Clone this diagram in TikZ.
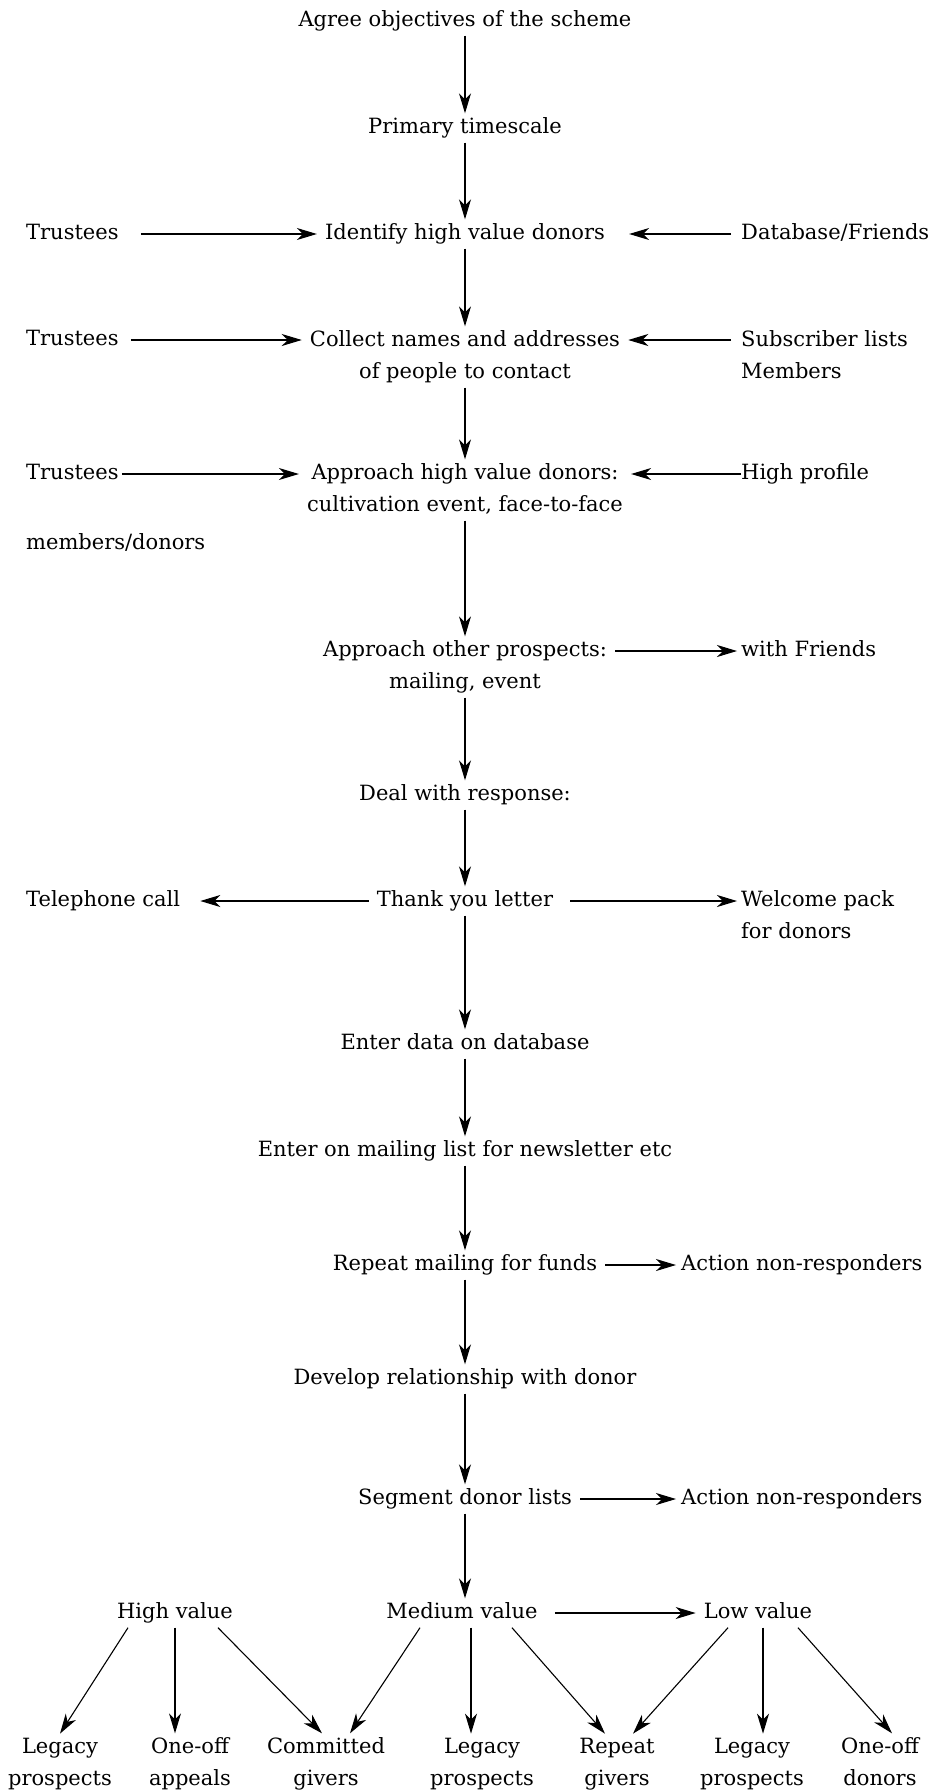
\documentclass[tikz,border=0pt]{standalone}
\usepackage{fontspec}
\setmainfont{DejaVu Serif}
\usetikzlibrary{arrows.meta}

\begin{document}
\begin{tikzpicture}[x=1pt,y=-1pt,
    lbl/.style={font=\fontsize{21}{32}\selectfont, align=center,
        inner xsep=8pt, inner ysep=4pt},
    txt/.style={lbl, text height=16pt, text depth=5pt},
    two/.style={lbl, text depth=5pt},
    side/.style={txt, anchor=west, align=left, inner sep=0pt},
    sidetwo/.style={two, anchor=west, align=left, inner sep=0pt},
    arr/.style={-{Stealth[length=20pt,width=12pt,inset=6pt]}, line width=1.1pt}]

\useasboundingbox (0,0) rectangle (931,1791);

% Main column
\node[txt] (obj) at (465,21) {Agree objectives of the scheme};
\node[txt] (time) at (465,128) {Primary timescale};
\node[txt] (ident) at (465,234) {Identify high value donors};
\node[two] (collect) at (465,357) {Collect names and addresses\\of people to contact};
\node[two] (appr) at (465,490) {Approach high value donors:\\cultivation event, face-to-face};
\node[two] (other) at (465,667) {Approach other prospects:\\mailing, event};
\node[txt] (deal) at (465,795) {Deal with response:};
\node[txt] (thank) at (465,901) {Thank you letter};
\node[txt] (enter) at (465,1044) {Enter data on database};
\node[txt] (mail) at (465,1151) {Enter on mailing list for newsletter etc};
\node[txt] (rept) at (465,1265) {Repeat mailing for funds};
\node[txt] (devel) at (465,1379) {Develop relationship with donor};
\node[txt] (segm) at (465,1499) {Segment donor lists};

\draw[arr] (obj) -- (time);
\draw[arr] (time) -- (ident);
\draw[arr] (ident) -- (collect);
\draw[arr] (collect) -- (appr);
\draw[arr] (appr) -- (other);
\draw[arr] (other) -- (deal);
\draw[arr] (deal) -- (thank);
\draw[arr] (thank) -- (enter);
\draw[arr] (enter) -- (mail);
\draw[arr] (mail) -- (rept);
\draw[arr] (rept) -- (devel);
\draw[arr] (devel) -- (segm);

% Left side
\node[side] (tr1) at (26,234) {Trustees};
\node[side] (tr2) at (26,340) {Trustees};
\node[side] (tr3) at (26,474) {Trustees};
\node[side] (memb) at (26,544) {members/donors};
\node[side] (tel) at (26,901) {Telephone call};

\draw[arr, shorten <=22pt] (tr1.east) -- (tr1 -| ident.west);
\draw[arr, shorten <=12pt] (tr2.east) -- (tr2 -| collect.west);
\draw[arr, shorten <=3pt] (tr3.east) -- (tr3 -| appr.west);
\draw[arr, shorten >=20pt] (thank.west) -- (tel.east);

% Right side
\node[side] (dbf) at (741,234) {Database/Friends};
\node[sidetwo] (subs) at (741,357) {Subscriber lists\\Members};
\node[side] (hprof) at (741,474) {High profile};
\node[side] (wfr) at (741,651) {with Friends};
\node[sidetwo] (welc) at (741,917) {Welcome pack\\for donors};
\node[side] (act1) at (681,1265) {Action non-responders};
\node[side] (act2) at (681,1499) {Action non-responders};

\draw[arr, shorten <=10pt, shorten >=16pt] (dbf.west) -- (dbf -| ident.east);
\draw[arr, shorten <=10pt] (tr2 -| subs.west) -- (tr2 -| collect.east);
\draw[arr] (hprof.west) -- (hprof -| appr.east);
\draw[arr, shorten >=4pt] (wfr -| other.east) -- (wfr.west);
\draw[arr, shorten <=9pt, shorten >=4pt] (thank.east) -- (thank -| welc.west);
\draw[arr, shorten >=5pt] (rept.east) -- (act1.west);
\draw[arr, shorten >=5pt] (segm.east) -- (act2.west);

% Segments
\node[txt] (hv) at (175,1613) {High value};
\node[txt] (mv) at (462,1613) {Medium value};
\node[txt] (lv) at (758,1613) {Low value};

\draw[arr] (segm) -- (segm |- mv.north);
\draw[arr, shorten <=9pt] (mv.east) -- (lv.west);

% Outcomes
\node[two] (lp1) at (60,1764) {Legacy\\prospects};
\node[two] (oa) at (190,1764) {One-off\\appeals};
\node[two] (cg) at (326,1764) {Committed\\givers};
\node[two] (lp2) at (482,1764) {Legacy\\prospects};
\node[two] (rg) at (617,1764) {Repeat\\givers};
\node[two] (lp3) at (752,1764) {Legacy\\prospects};
\node[two] (od) at (880,1764) {One-off\\donors};

\draw[arr] ([xshift=-47pt]hv.south) -- (lp1.north);
\draw[arr] (hv.south) -- (hv.south |- oa.north);
\draw[arr] ([xshift=43pt]hv.south) -- ([xshift=-4pt]cg.north);
\draw[arr] ([xshift=-42pt]mv.south) -- ([xshift=24pt]cg.north);
\draw[arr] ([xshift=9pt]mv.south) -- ([xshift=9pt]mv.south |- lp2.north);
\draw[arr] ([xshift=50pt]mv.south) -- ([xshift=-12pt]rg.north);
\draw[arr] ([xshift=-30pt]lv.south) -- ([xshift=16pt]rg.north);
\draw[arr] ([xshift=5pt]lv.south) -- ([xshift=5pt]lv.south |- lp3.north);
\draw[arr] ([xshift=40pt]lv.south) -- ([xshift=12pt]od.north);

\end{tikzpicture}
\end{document}
